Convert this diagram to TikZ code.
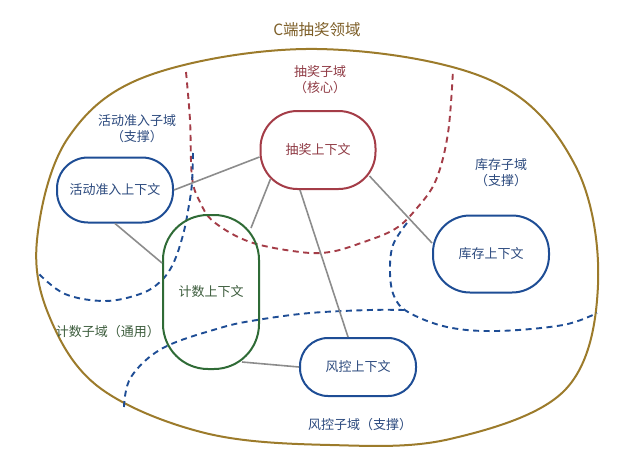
\documentclass[tikz,border=0pt]{standalone}
\usepackage{fontspec}
\setmainfont{Noto Sans CJK SC}
\usetikzlibrary{calc}

\definecolor{goldline}{HTML}{9C7B2B}
\definecolor{goldtext}{HTML}{7D5E27}
\definecolor{corered}{HTML}{A43C47}
\definecolor{coretext}{HTML}{8F3A44}
\definecolor{supblue}{HTML}{1E4D95}
\definecolor{suptext}{HTML}{2C4A7E}
\definecolor{genGreen}{HTML}{2F6B36}
\definecolor{gentext}{HTML}{3C5C3C}
\definecolor{linkgray}{HTML}{8C8C8C}

\tikzset{
  ctx/.style={draw, line width=2pt, inner sep=0pt, fill=white,
    font=\fontsize{13}{15}\selectfont},
  domainlabel/.style={font=\fontsize{13}{16}\selectfont, align=center, inner sep=0pt},
  border/.style={line width=1.9pt, dash pattern=on 6pt off 4.5pt},
  link/.style={draw=linkgray, line width=1.6pt},
}

\begin{document}
\begin{tikzpicture}[x=1pt, y=-1pt]
\useasboundingbox (0,0) rectangle (638,466);

% title of the whole domain
\node[text=goldtext, font=\fontsize{15.5}{18}\selectfont] (title) at (317,30) {C端抽奖领域};

% outer boundary of the domain
\draw[goldline, line width=2pt] plot[smooth cycle, tension=0.6] coordinates {
  (317,49) (490,80) (575,165) (598,285) (565,390) (450,439) (330,445)
  (205,433) (100,388) (50,318) (37,240) (68,138) (150,75)};

% subdomain boundaries
\draw[border, corered] plot[smooth, tension=0.6] coordinates {
  (186,72) (190,120) (192,177) (200,202) (214,222) (250,242) (300,252)
  (330,252) (361,243) (395,229) (417,208) (436,180) (448,133) (453,70)};
\draw[border, supblue] plot[smooth, tension=0.6] coordinates {
  (193,153) (192,183) (189,205) (183,235) (173,264) (160,282) (140,294)
  (105,301) (65,294) (38,273)};
\draw[border, supblue] plot[smooth, tension=0.6] coordinates {
  (407,223) (393,245) (390,272) (394,296) (408,312) (447,327) (497,331)
  (563,325) (597,313)};
\draw[border, supblue] plot[smooth, tension=0.6] coordinates {
  (124,407) (131,377) (163,348) (220,328) (257,320) (310,313) (370,310)
  (404,310)};

% subdomain names
\node[domainlabel, text=coretext] (lotdomain) at (320,80) {抽奖子域\\（核心）};
\node[domainlabel, text=suptext] (actdomain) at (137,129) {活动准入子域\\（支撑）};
\node[domainlabel, text=suptext] (invdomain) at (501,173) {库存子域\\（支撑）};
\node[domainlabel, text=gentext] (cntdomain) at (108,332) {计数子域（通用）};
\node[domainlabel, text=suptext] (riskdomain) at (360,425) {风控子域（支撑）};

% bounded contexts
\node[ctx, draw=supblue, text=suptext, minimum width=116pt, minimum height=65pt,
  rounded corners=31pt] (act) at (115,190) {活动准入上下文};
\node[ctx, draw=corered, text=coretext, minimum width=115pt, minimum height=78pt,
  rounded corners=37pt] (lot) at (318,150) {抽奖上下文};
\node[ctx, draw=supblue, text=suptext, minimum width=116pt, minimum height=77pt,
  rounded corners=37pt] (inv) at (491,254) {库存上下文};
\node[ctx, draw=supblue, text=suptext, minimum width=116pt, minimum height=58pt,
  rounded corners=28pt] (risk) at (358,367) {风控上下文};
\node[ctx, draw=genGreen, text=gentext, minimum width=96pt, minimum height=154pt,
  rounded corners=45pt, fill=none] (cnt) at (211,292) {计数上下文};

% relations between contexts
\draw[link] (act.east) -- ([yshift=-7pt]lot.west);
\draw[link] (act.south) -- ([yshift=29pt]cnt.west);
\draw[link] ([shift={(-9pt,-14pt)}]cnt.north east) -- ([shift={(11pt,11pt)}]lot.south west);
\draw[link] ([xshift=-18pt]lot.south) -- ([xshift=-10pt]risk.north);
\draw[link] ([shift={(-7pt,14pt)}]lot.south east) -- ([yshift=11pt]inv.west);
\draw[link] ([shift={(-18pt,8pt)}]cnt.south east) -- (risk.west);
\end{tikzpicture}
\end{document}
